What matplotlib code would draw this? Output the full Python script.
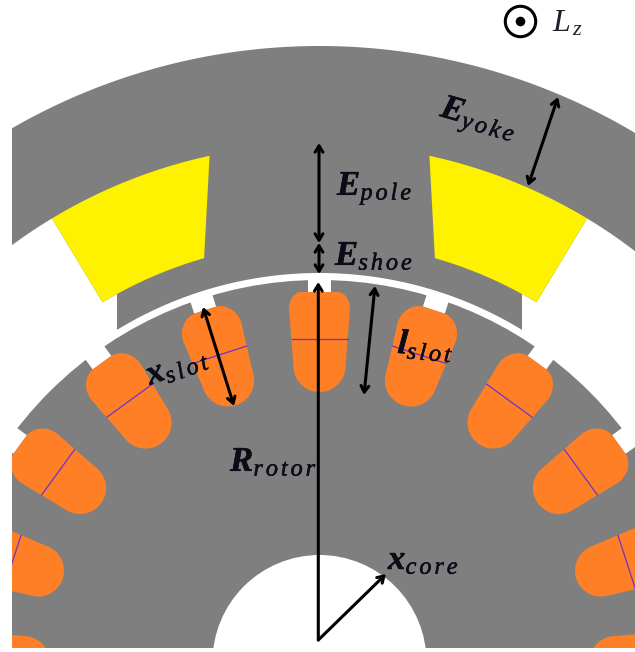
import numpy as np
import matplotlib
matplotlib.use("Agg")
import matplotlib.pyplot as plt
import matplotlib.patheffects as pe
from matplotlib.patches import Polygon, Rectangle, Circle

plt.rcParams.update({
    "mathtext.fontset": "custom",
    "mathtext.rm": "Liberation Serif",
    "mathtext.it": "Liberation Serif:italic",
    "mathtext.bf": "Liberation Serif:bold",
    "mathtext.bfit": "Liberation Serif:italic:bold",
})

# Geometry (pixels)
CENTER = (319.5, 662.0)
R_STATOR_OUT = 616
R_YOKE_IN = 518
R_COIL_IN = 420
R_BORE = 389
R_ROTOR = 382
R_CORE = 107
R_SLOT_TOP = 370
R_SLOT_BOTTOM = 270
R_SLOT_LINE = 323
SLOT_LINE_HALF = 28
NOTCH_WIDTH = 23
SHOE_HALF_WIDTH = 202.5
COIL_ANGLES_OUT = (12.25, 31.1)
COIL_ANGLES_IN = (15.95, 31.1)
SLOT_ANGLES = [-108, -90, -72, -54, -36, -18, 0, 18, 36, 54, 72, 90, 108]

GRAY = "#7f7f7f"
YELLOW = "#fff200"
ORANGE = "#ff7f27"
PURPLE = "#6a35c8"

arrows_double = [
    ((319, 143), (319, 243)),
    ((319, 243), (319, 274)),
    ((558, 97), (528, 186)),
    ((375, 286), (364, 395)),
    ((203, 307), (234, 406)),
]
arrows_single = [
    ((318.3, 640), (318.3, 282)),
    ((318.3, 640), (386, 574)),
]
labels = [
    (r"$\mathbfit{E}_{\mathit{p\,o\,l\,e}}$", 337, 195, 0),
    (r"$\mathbfit{E}_{\mathit{s\,h\,o\,e}}$", 335, 265, 0),
    (r"$\mathbfit{E}_{\mathit{y\,o\,k\,e}}$", 439, 116, -16),
    (r"$\mathbfit{R}_{\mathit{r\,o\,t\,o\,r}}$", 230, 471, 0),
    (r"$\mathbfit{x}_{\mathit{s\,l\,o\,t}}$", 150, 385, 20),
    (r"$\mathbfit{l}_{\mathit{s\,l\,o\,t}}$", 397, 353, -5),
    (r"$\mathbfit{x}_{\mathit{c\,o\,r\,e}}$", 388, 569, 0),
]


def pol(r, deg):
    a = np.radians(deg)
    return np.column_stack([CENTER[0] + r * np.sin(a), CENTER[1] - r * np.cos(a)])


def arc(r, a0, a1, n=200):
    return pol(r, np.linspace(a0, a1, n))


def slot_outline(angle):
    # half outline in local (u, r) coordinates, mirrored;
    # the top slot has a flatter head than the others in the reference
    cu, cr = (18, 353) if angle == 0 else (10, 347)
    t = np.linspace(0, np.pi / 2, 30)
    corner = np.column_stack([cu + (30.5 - cu) * np.sin(t), cr + (370 - cr) * np.cos(t)])
    t = np.linspace(0, np.pi / 2, 40)
    bottom = np.column_stack([26 * np.cos(t), 296 - 26 * np.sin(t)])
    right = np.vstack([corner, bottom])
    left = right[::-1] * [-1, 1]
    pts = np.vstack([right, left])
    a = np.radians(angle)
    x = CENTER[0] + pts[:, 0] * np.cos(a) + pts[:, 1] * np.sin(a)
    y = CENTER[1] + pts[:, 0] * np.sin(a) - pts[:, 1] * np.cos(a)
    return np.column_stack([x, y])


def local(u, r, angle):
    a = np.radians(angle)
    return (CENTER[0] + u * np.cos(a) + r * np.sin(a),
            CENTER[1] + u * np.sin(a) - r * np.cos(a))


fig = plt.figure(figsize=(6.35, 6.52), dpi=100)
ax = fig.add_axes([0, 0, 1, 1])
ax.set_xlim(0, 635)
ax.set_ylim(652, 0)
ax.axis("off")

clip = Rectangle((12, 0), 640, 648, transform=ax.transData)

# Stator
shoe_ang = np.degrees(np.arcsin(SHOE_HALF_WIDTH / R_COIL_IN))
bore_ang = np.degrees(np.arcsin(SHOE_HALF_WIDTH / R_BORE))
wide = 45
stator = np.vstack([
    arc(R_STATOR_OUT, -wide, wide),
    arc(R_YOKE_IN, wide, COIL_ANGLES_OUT[1]),
    arc(R_COIL_IN, COIL_ANGLES_IN[1], shoe_ang),
    arc(R_BORE, bore_ang, -bore_ang),
    arc(R_COIL_IN, -shoe_ang, -COIL_ANGLES_IN[1]),
    arc(R_YOKE_IN, -COIL_ANGLES_OUT[1], -wide),
])
p = Polygon(stator, closed=True, fc=GRAY, ec="none", zorder=1)
ax.add_patch(p)
p.set_clip_path(clip)

# Coils
for s in (1, -1):
    coil = np.vstack([
        arc(R_YOKE_IN, s * COIL_ANGLES_OUT[0], s * COIL_ANGLES_OUT[1], 60),
        arc(R_COIL_IN, s * COIL_ANGLES_IN[1], s * COIL_ANGLES_IN[0], 60),
    ])
    ax.add_patch(Polygon(coil, closed=True, fc=YELLOW, ec="none", zorder=2))

# Rotor
rotor = Circle(CENTER, R_ROTOR, fc=GRAY, ec="none", zorder=3)
ax.add_patch(rotor)
rotor.set_clip_path(clip)

# Notches and slots
for ang in SLOT_ANGLES:
    h = NOTCH_WIDTH / 2
    notch = [local(-h, R_SLOT_TOP, ang), local(h, R_SLOT_TOP, ang),
             local(h, R_BORE - 2, ang), local(-h, R_BORE - 2, ang)]
    ax.add_patch(Polygon(notch, closed=True, fc="white", ec="none", zorder=4))
    sl = Polygon(slot_outline(ang), closed=True, fc=ORANGE, ec="none", zorder=5)
    ax.add_patch(sl)
    sl.set_clip_path(clip)
    a, b = local(-SLOT_LINE_HALF, R_SLOT_LINE, ang), local(SLOT_LINE_HALF, R_SLOT_LINE, ang)
    ln, = ax.plot([a[0], b[0]], [a[1], b[1]], color=PURPLE, lw=0.9, zorder=6)
    ln.set_clip_path(clip)

# Core hole
core = Circle(CENTER, R_CORE, fc="white", ec="none", zorder=7)
ax.add_patch(core)
ax.add_patch(Rectangle((0, 648), 635, 10, fc="white", ec="none", zorder=8))

# Dimension arrows
for style, group in (("<->", arrows_double), ("->", arrows_single)):
    for start, end in group:
        ax.annotate("", xy=end, xytext=start, zorder=10,
                    arrowprops=dict(arrowstyle=f"{style},head_length=0.45,head_width=0.28",
                                    lw=2.2, color="black", shrinkA=0, shrinkB=0))

# Labels
stroke = [pe.withStroke(linewidth=0.35, foreground="#0c0c18")]
for txt, x, y, rot in labels:
    ax.text(x, y, txt, fontsize=25, ha="left", va="baseline", rotation=rot,
            rotation_mode="anchor", color="#0c0c18", zorder=11, path_effects=stroke)

# L_z symbol
ax.add_patch(Circle((520.5, 21.5), 15.2, fc="white", ec="black", lw=2.2, zorder=10))
ax.add_patch(Circle((520.5, 21.5), 4.8, fc="black", ec="none", zorder=11))
ax.text(552, 31, r"$\mathit{L}_{\,\mathit{z}}$", fontsize=23, ha="left", va="baseline",
        color="#20202a", zorder=11)

fig.savefig("out.png", dpi=100, facecolor="white")
